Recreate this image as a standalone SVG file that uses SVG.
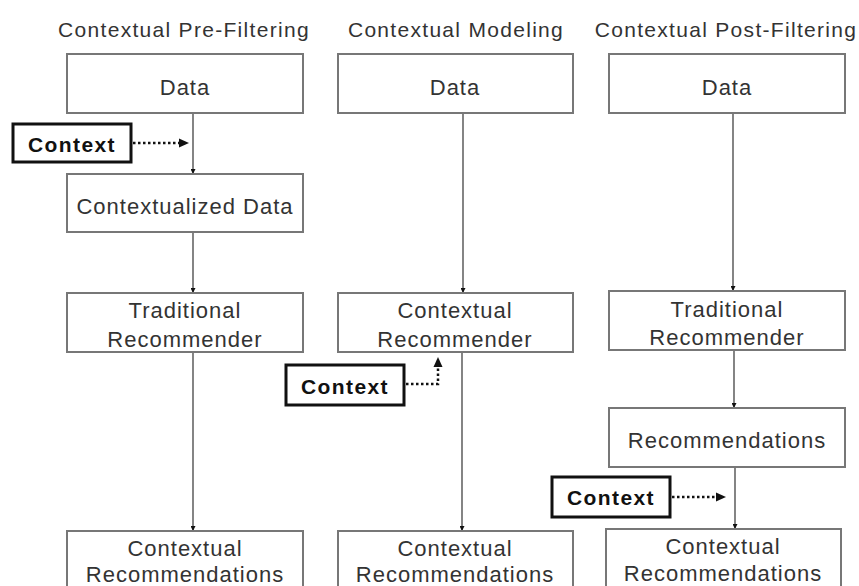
<svg xmlns="http://www.w3.org/2000/svg" width="859" height="586" viewBox="0 0 859 586">
<style>
text{font-family:"Liberation Sans",Arial,sans-serif;fill:#333;font-size:22px;letter-spacing:1px;text-anchor:middle}
.t{font-size:21px;letter-spacing:1.3px}
.box{fill:#fff;stroke:#777;stroke-width:2}
.ctx{fill:#fff;stroke:#111;stroke-width:3}
.ctxt{font-weight:bold;fill:#111;font-size:21px;letter-spacing:1.4px}
.ln{stroke:#666;stroke-width:1.6;fill:none}
.dot{stroke:#111;stroke-width:2.5;stroke-dasharray:2.5 2.5;fill:none}
</style>
<defs>
<marker id="ah" viewBox="0 0 10 10" refX="10" refY="5" markerWidth="5" markerHeight="5" orient="auto" markerUnits="userSpaceOnUse"><path d="M0,0 L10,5 L0,10 z" fill="#111"/></marker>
</defs>
<rect width="859" height="586" fill="#fff"/>
<g id="titles">
<text x="184" y="37" class="t">Contextual Pre-Filtering</text>
<text x="456" y="37" class="t">Contextual Modeling</text>
<text x="726" y="37" class="t">Contextual Post-Filtering</text>
</g>
<g id="connectors">
<line class="ln" x1="193" y1="113" x2="193" y2="174" marker-end="url(#ah)"/>
<line class="ln" x1="193" y1="232" x2="193" y2="293" marker-end="url(#ah)"/>
<line class="ln" x1="193" y1="352" x2="193" y2="531" marker-end="url(#ah)"/>
<line class="ln" x1="463" y1="113" x2="463" y2="293" marker-end="url(#ah)"/>
<line class="ln" x1="462" y1="352" x2="462" y2="531" marker-end="url(#ah)"/>
<line class="ln" x1="733" y1="113" x2="733" y2="291" marker-end="url(#ah)"/>
<line class="ln" x1="734" y1="350" x2="734" y2="408" marker-end="url(#ah)"/>
<line class="ln" x1="735" y1="467" x2="735" y2="529" marker-end="url(#ah)"/>
<path class="dot" d="M133,143 H181"/>
<path d="M179,138.5 L189,143 L179,147.5 z" fill="#111"/>
<path class="dot" d="M406,384 H438 V367"/>
<path d="M433.5,367 L438,357 L442.5,367 z" fill="#111"/>
<path class="dot" d="M672,497 H718"/>
<path d="M716,492.5 L726,497 L716,501.5 z" fill="#111"/>
</g>
<g id="c1-data"><rect class="box" x="67" y="54" width="236" height="59"/><text x="185" y="95">Data</text></g>
<g id="c1-context"><rect class="ctx" x="13" y="124" width="118" height="38"/><text class="ctxt" x="72" y="152">Context</text></g>
<g id="c1-cdata"><rect class="box" x="67" y="174" width="236" height="58"/><text x="185" y="214">Contextualized Data</text></g>
<g id="c1-trad"><rect class="box" x="67" y="293" width="236" height="59"/><text x="185" y="318">Traditional</text><text x="185" y="347">Recommender</text></g>
<g id="c1-crec"><rect class="box" x="67" y="531" width="236" height="70"/><text x="185" y="556">Contextual</text><text x="185" y="582">Recommendations</text></g>
<g id="c2-data"><rect class="box" x="338" y="54" width="235" height="59"/><text x="455" y="95">Data</text></g>
<g id="c2-crecr"><rect class="box" x="338" y="293" width="235" height="59"/><text x="455" y="318">Contextual</text><text x="455" y="347">Recommender</text></g>
<g id="c2-context"><rect class="ctx" x="286" y="365" width="118" height="40"/><text class="ctxt" x="345" y="394">Context</text></g>
<g id="c2-crec"><rect class="box" x="338" y="531" width="235" height="70"/><text x="455" y="556">Contextual</text><text x="455" y="582">Recommendations</text></g>
<g id="c3-data"><rect class="box" x="609" y="54" width="236" height="59"/><text x="727" y="95">Data</text></g>
<g id="c3-trad"><rect class="box" x="609" y="291" width="236" height="59"/><text x="727" y="317">Traditional</text><text x="727" y="345">Recommender</text></g>
<g id="c3-recs"><rect class="box" x="609" y="408" width="236" height="59"/><text x="727" y="448">Recommendations</text></g>
<g id="c3-context"><rect class="ctx" x="552" y="477" width="118" height="40"/><text class="ctxt" x="611" y="505">Context</text></g>
<g id="c3-crec"><rect class="box" x="606" y="529" width="235" height="70"/><text x="723" y="554">Contextual</text><text x="723" y="581">Recommendations</text></g>
</svg>
